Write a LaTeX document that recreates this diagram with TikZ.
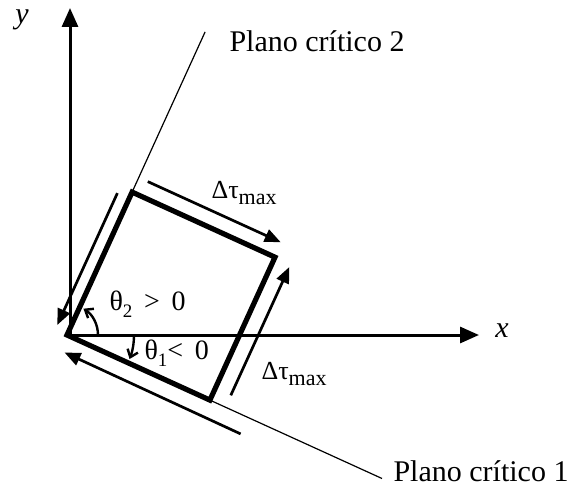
\documentclass[tikz,border=0pt]{standalone}
\usepackage{fontspec}
\setmainfont{Liberation Serif}
\usetikzlibrary{arrows.meta}
\tikzset{
  axis/.style={line width=3pt,-{Triangle[length=19pt,width=16pt]}},
  side/.style={line width=5.2pt,line join=miter},
  shear/.style={line width=2.7pt,-{Triangle[length=16pt,width=13pt]}},
  plane/.style={line width=1.2pt},
  anglearc/.style={line width=2.4pt,-{Straight Barb[length=7pt,width=11pt,line width=2.4pt]}},
  big/.style={font=\fontsize{30}{34}\selectfont},
  lab/.style={font=\fontsize{28}{30}\selectfont},
  tau/.style={font=\fontsize{26}{28}\selectfont}
}
\newcommand{\dtmax}{Δτ\raisebox{-6pt}{\fontsize{22}{22}\selectfont max}}
\begin{document}
\begin{tikzpicture}[x=1pt,y=-1pt]
\useasboundingbox (0,0) rectangle (575,495);
% square corners
\coordinate (A) at (67,335);
\coordinate (B) at (132.1,192.1);
\coordinate (C) at (275,257.2);
\coordinate (D) at (209.9,400.1);
% axes
\coordinate (O) at (70,335);
\coordinate (Ytip) at (70,8);
\coordinate (Xtip) at (479,335);
\draw[axis] (O) -- (Ytip);
\draw[axis] (A) -- (Xtip);
\node[font=\fontsize{30}{34}\selectfont\itshape] (ylab) at (22,20) {y};
\node[font=\fontsize{30}{34}\selectfont\itshape] (xlab) at (502,331) {x};
% planes
\coordinate (P2) at (205.1,31.9);
\coordinate (P1) at (382,478.5);
\draw[plane] (B) -- (P2);
\draw[plane] (D) -- (P1);
\node[big,anchor=west] (t2) at (226,41) {Plano crítico 2};
\node[big,anchor=west] (t1) at (390,471) {Plano crítico 1};
% square
\draw[side] (A) -- (B) -- (C) -- (D) -- cycle;
% shear arrows
\coordinate (s1a) at (147.8,181.6);
\coordinate (s1b) at (280.7,242.2);
\coordinate (s2a) at (230.8,395.3);
\coordinate (s2b) at (289.3,267);
\coordinate (s3a) at (117.4,193.1);
\coordinate (s3b) at (57.3,325);
\coordinate (s4a) at (240.6,433.9);
\coordinate (s4b) at (64.5,352.5);
\draw[shear] (s1a) -- (s1b);
\draw[shear] (s2a) -- (s2b);
\draw[shear] (s3a) -- (s3b);
\draw[shear] (s4a) -- (s4b);
\node[tau,anchor=west] (tau1) at (208,193) {\dtmax};
\node[tau,anchor=west] (tau2) at (258,374) {\dtmax};
% angles
\draw[anglearc] ([xshift=31pt]A) arc[start angle=0,end angle=58,radius=31pt];
\draw[anglearc] ([xshift=67pt]A) arc[start angle=0,end angle=-21,radius=67pt];
\node[lab,anchor=west] (th2) at (106,304) {θ\raisebox{-7pt}{\fontsize{19}{19}\selectfont 2} \,>\, 0};
\node[lab,anchor=west] (th1) at (141,353) {θ\raisebox{-7pt}{\fontsize{19}{19}\selectfont 1}<\, 0};
\end{tikzpicture}
\end{document}
